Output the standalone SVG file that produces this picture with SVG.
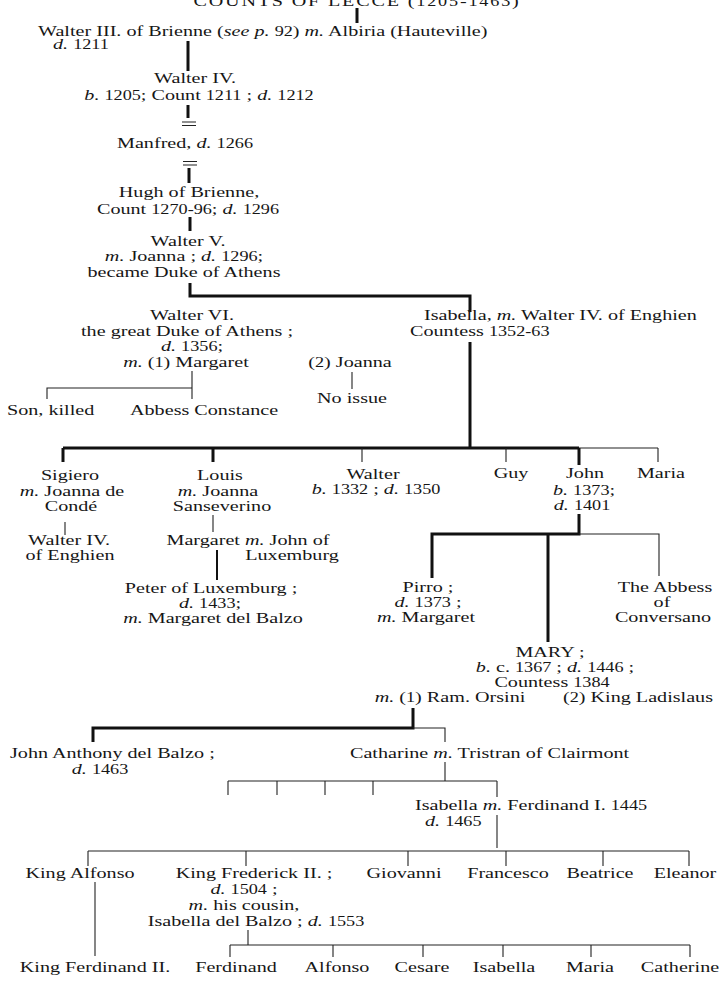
<svg xmlns="http://www.w3.org/2000/svg" width="721" height="984" viewBox="0 0 721 984">
<style>
text{font-family:"Liberation Serif","Times New Roman",serif;font-size:15.5px;fill:#161616}
.c{text-anchor:middle}
.i{font-style:italic}
.d{font-size:14px}
.k{stroke:#111;stroke-width:3;fill:none}
.m{stroke:#111;stroke-width:2;fill:none}
.n{stroke:#222;stroke-width:1.1;fill:none}
</style>
<rect width="721" height="984" fill="#fff"/>
<g id="connectors">
<path class="k" d="M357,8V23"/>
<path class="k" d="M188,41V71"/>
<path class="k" d="M188,105V118"/>
<path class="n" d="M182,122H196M182,125.5H196"/>
<path class="n" d="M183,161.5H197M183,165H197"/>
<path class="k" d="M189,168V183"/>
<path class="k" d="M190,217V231"/>
<path class="k" d="M190,283V296H470V312"/>
<path class="n" d="M192,371V388H47V399M192,388V399"/>
<path class="n" d="M352,372V389"/>
<path class="k" d="M470,342V448"/>
<path class="k" d="M63,448H579"/>
<path class="n" d="M579,448H658"/>
<path class="k" d="M63,448V462M213,448V462M579,448V465"/>
<path class="n" d="M362,448V462M506,448V462M658,448V462"/>
<path class="n" d="M65,522V535"/>
<path class="n" d="M213,515V532"/>
<path class="m" d="M217,550V580"/>
<path class="k" d="M579,514V534H432V578"/>
<path class="k" d="M548,534V642"/>
<path class="n" d="M579,534H659V576"/>
<path class="k" d="M413,708V728H93V742"/>
<path class="n" d="M413,728H445V742"/>
<path class="n" d="M445,762V781M228,781H497M228,781V795M277,781V795M325,781V795M373,781V795M497,781V797"/>
<path class="n" d="M497,815V848"/>
<path class="n" d="M88,851H689M88,851V866M246,851V866M408,851V866M506,851V866M603,851V866M689,851V866"/>
<path class="n" d="M95,882V956"/>
<path class="n" d="M248,930V945M230,945H690M230,945V957M333,945V957M423,945V957M503,945V957M591,945V957M690,945V957"/>
</g>
<g id="title"><text class="c" transform="translate(357,6) scale(1.3,1)" letter-spacing="1.4">COUNTS OF LECCE (<tspan class="d">1205</tspan>-<tspan class="d">1463</tspan>)</text></g>
<g id="n-walter3">
<text transform="translate(38,36) scale(1.3,1)">Walter III. of Brienne (<tspan class="i">see p.</tspan> <tspan class="d">92</tspan>) <tspan class="i">m.</tspan> Albiria (Hauteville)</text>
<text transform="translate(53,49) scale(1.3,1)"><tspan class="i">d.</tspan> <tspan class="d">1211</tspan></text>
</g>
<g id="n-walter4">
<text class="c" transform="translate(195,83) scale(1.3,1)">Walter IV.</text>
<text class="c" transform="translate(199,100) scale(1.3,1)"><tspan class="i">b.</tspan> <tspan class="d">1205</tspan>; Count <tspan class="d">1211</tspan> ; <tspan class="i">d.</tspan> <tspan class="d">1212</tspan></text>
</g>
<g id="n-manfred"><text class="c" transform="translate(185,148) scale(1.3,1)">Manfred, <tspan class="i">d.</tspan> <tspan class="d">1266</tspan></text></g>
<g id="n-hugh">
<text class="c" transform="translate(189,197) scale(1.3,1)">Hugh of Brienne,</text>
<text class="c" transform="translate(188,214) scale(1.3,1)">Count <tspan class="d">1270-96</tspan>; <tspan class="i">d.</tspan> <tspan class="d">1296</tspan></text>
</g>
<g id="n-walter5">
<text class="c" transform="translate(188,246) scale(1.3,1)">Walter V.</text>
<text class="c" transform="translate(184,261) scale(1.3,1)"><tspan class="i">m.</tspan> Joanna ; <tspan class="i">d.</tspan> <tspan class="d">1296</tspan>;</text>
<text class="c" transform="translate(184,277) scale(1.3,1)">became Duke of Athens</text>
</g>
<g id="n-walter6">
<text class="c" transform="translate(192,320) scale(1.3,1)">Walter VI.</text>
<text class="c" transform="translate(187,336) scale(1.3,1)">the great Duke of Athens ;</text>
<text class="c" transform="translate(192,351) scale(1.3,1)"><tspan class="i">d.</tspan> <tspan class="d">1356</tspan>;</text>
<text class="c" transform="translate(186,367) scale(1.3,1)"><tspan class="i">m.</tspan> (<tspan class="d">1</tspan>) Margaret</text>
<text class="c" transform="translate(350,367) scale(1.3,1)">(<tspan class="d">2</tspan>) Joanna</text>
</g>
<g id="n-isabella">
<text transform="translate(424,320) scale(1.3,1)">Isabella, <tspan class="i">m.</tspan> Walter IV. of Enghien</text>
<text transform="translate(410,336) scale(1.3,1)">Countess <tspan class="d">1352-63</tspan></text>
</g>
<g id="n-son"><text transform="translate(7,415) scale(1.3,1)">Son, killed</text></g>
<g id="n-constance"><text transform="translate(130,415) scale(1.3,1)">Abbess Constance</text></g>
<g id="n-noissue"><text class="c" transform="translate(352,403) scale(1.3,1)">No issue</text></g>
<g id="n-sigiero">
<text class="c" transform="translate(70,480) scale(1.3,1)">Sigiero</text>
<text class="c" transform="translate(72,496) scale(1.3,1)"><tspan class="i">m.</tspan> Joanna de</text>
<text class="c" transform="translate(71,511) scale(1.3,1)">Condé</text>
</g>
<g id="n-walter4e">
<text class="c" transform="translate(69,545) scale(1.3,1)">Walter IV.</text>
<text class="c" transform="translate(70,560) scale(1.3,1)">of Enghien</text>
</g>
<g id="n-louis">
<text class="c" transform="translate(220,480) scale(1.3,1)">Louis</text>
<text class="c" transform="translate(218,496) scale(1.3,1)"><tspan class="i">m.</tspan> Joanna</text>
<text class="c" transform="translate(222,511) scale(1.3,1)">Sanseverino</text>
</g>
<g id="n-margaret">
<text class="c" transform="translate(248,545) scale(1.3,1)">Margaret <tspan class="i">m.</tspan> John of</text>
<text class="c" transform="translate(292,560) scale(1.3,1)">Luxemburg</text>
</g>
<g id="n-peter">
<text class="c" transform="translate(211,593) scale(1.3,1)">Peter of Luxemburg ;</text>
<text class="c" transform="translate(210,608) scale(1.3,1)"><tspan class="i">d.</tspan> <tspan class="d">1433</tspan>;</text>
<text class="c" transform="translate(213,623) scale(1.3,1)"><tspan class="i">m.</tspan> Margaret del Balzo</text>
</g>
<g id="n-walter">
<text class="c" transform="translate(373,479) scale(1.3,1)">Walter</text>
<text class="c" transform="translate(376,494) scale(1.3,1)"><tspan class="i">b.</tspan> <tspan class="d">1332</tspan> ; <tspan class="i">d.</tspan> <tspan class="d">1350</tspan></text>
</g>
<g id="n-guy"><text class="c" transform="translate(511,478) scale(1.3,1)">Guy</text></g>
<g id="n-john">
<text class="c" transform="translate(585,478) scale(1.3,1)">John</text>
<text class="c" transform="translate(584,495) scale(1.3,1)"><tspan class="i">b.</tspan> <tspan class="d">1373</tspan>;</text>
<text class="c" transform="translate(582,510) scale(1.3,1)"><tspan class="i">d.</tspan> <tspan class="d">1401</tspan></text>
</g>
<g id="n-maria"><text class="c" transform="translate(661,478) scale(1.3,1)">Maria</text></g>
<g id="n-pirro">
<text class="c" transform="translate(428,592) scale(1.3,1)">Pirro ;</text>
<text class="c" transform="translate(428,607) scale(1.3,1)"><tspan class="i">d.</tspan> <tspan class="d">1373</tspan> ;</text>
<text class="c" transform="translate(426,622) scale(1.3,1)"><tspan class="i">m.</tspan> Margaret</text>
</g>
<g id="n-abbess">
<text class="c" transform="translate(665,592) scale(1.3,1)">The Abbess</text>
<text class="c" transform="translate(662,607) scale(1.3,1)">of</text>
<text class="c" transform="translate(663,622) scale(1.3,1)">Conversano</text>
</g>
<g id="n-mary">
<text class="c" transform="translate(550,657) scale(1.3,1)">MARY ;</text>
<text class="c" transform="translate(555,672) scale(1.3,1)"><tspan class="i">b.</tspan> c. <tspan class="d">1367</tspan> ; <tspan class="i">d.</tspan> <tspan class="d">1446</tspan> ;</text>
<text class="c" transform="translate(552,687) scale(1.3,1)">Countess <tspan class="d">1384</tspan></text>
<text class="c" transform="translate(450,702) scale(1.3,1)"><tspan class="i">m.</tspan> (<tspan class="d">1</tspan>) Ram. Orsini</text>
<text class="c" transform="translate(638,702) scale(1.3,1)">(<tspan class="d">2</tspan>) King Ladislaus</text>
</g>
<g id="n-johnanthony">
<text transform="translate(10,758) scale(1.3,1)">John Anthony del Balzo ;</text>
<text class="c" transform="translate(100,774) scale(1.3,1)"><tspan class="i">d.</tspan> <tspan class="d">1463</tspan></text>
</g>
<g id="n-catharine"><text transform="translate(350,758) scale(1.3,1)">Catharine <tspan class="i">m.</tspan> Tristran of Clairmont</text></g>
<g id="n-isabella2">
<text transform="translate(415,810) scale(1.3,1)">Isabella <tspan class="i">m.</tspan> Ferdinand I. <tspan class="d">1445</tspan></text>
<text transform="translate(425,826) scale(1.3,1)"><tspan class="i">d.</tspan> <tspan class="d">1465</tspan></text>
</g>
<g id="n-alfonso"><text class="c" transform="translate(80,878) scale(1.3,1)">King Alfonso</text></g>
<g id="n-frederick">
<text class="c" transform="translate(254,878) scale(1.3,1)">King Frederick II. ;</text>
<text class="c" transform="translate(244,894) scale(1.3,1)"><tspan class="i">d.</tspan> <tspan class="d">1504</tspan> ;</text>
<text class="c" transform="translate(244,910) scale(1.3,1)"><tspan class="i">m.</tspan> his cousin,</text>
<text class="c" transform="translate(256,926) scale(1.3,1)">Isabella del Balzo ; <tspan class="i">d.</tspan> <tspan class="d">1553</tspan></text>
</g>
<g id="n-giovanni"><text class="c" transform="translate(404,878) scale(1.3,1)">Giovanni</text></g>
<g id="n-francesco"><text class="c" transform="translate(508,878) scale(1.3,1)">Francesco</text></g>
<g id="n-beatrice"><text class="c" transform="translate(600,878) scale(1.3,1)">Beatrice</text></g>
<g id="n-eleanor"><text class="c" transform="translate(685,878) scale(1.3,1)">Eleanor</text></g>
<g id="n-ferdinand2"><text class="c" transform="translate(95,972) scale(1.3,1)">King Ferdinand II.</text></g>
<g id="n-ferdinand"><text class="c" transform="translate(236,972) scale(1.3,1)">Ferdinand</text></g>
<g id="n-alfonso2"><text class="c" transform="translate(337,972) scale(1.3,1)">Alfonso</text></g>
<g id="n-cesare"><text class="c" transform="translate(422,972) scale(1.3,1)">Cesare</text></g>
<g id="n-isabella3"><text class="c" transform="translate(504,972) scale(1.3,1)">Isabella</text></g>
<g id="n-maria2"><text class="c" transform="translate(590,972) scale(1.3,1)">Maria</text></g>
<g id="n-catherine"><text class="c" transform="translate(680,972) scale(1.3,1)">Catherine</text></g>
</svg>
